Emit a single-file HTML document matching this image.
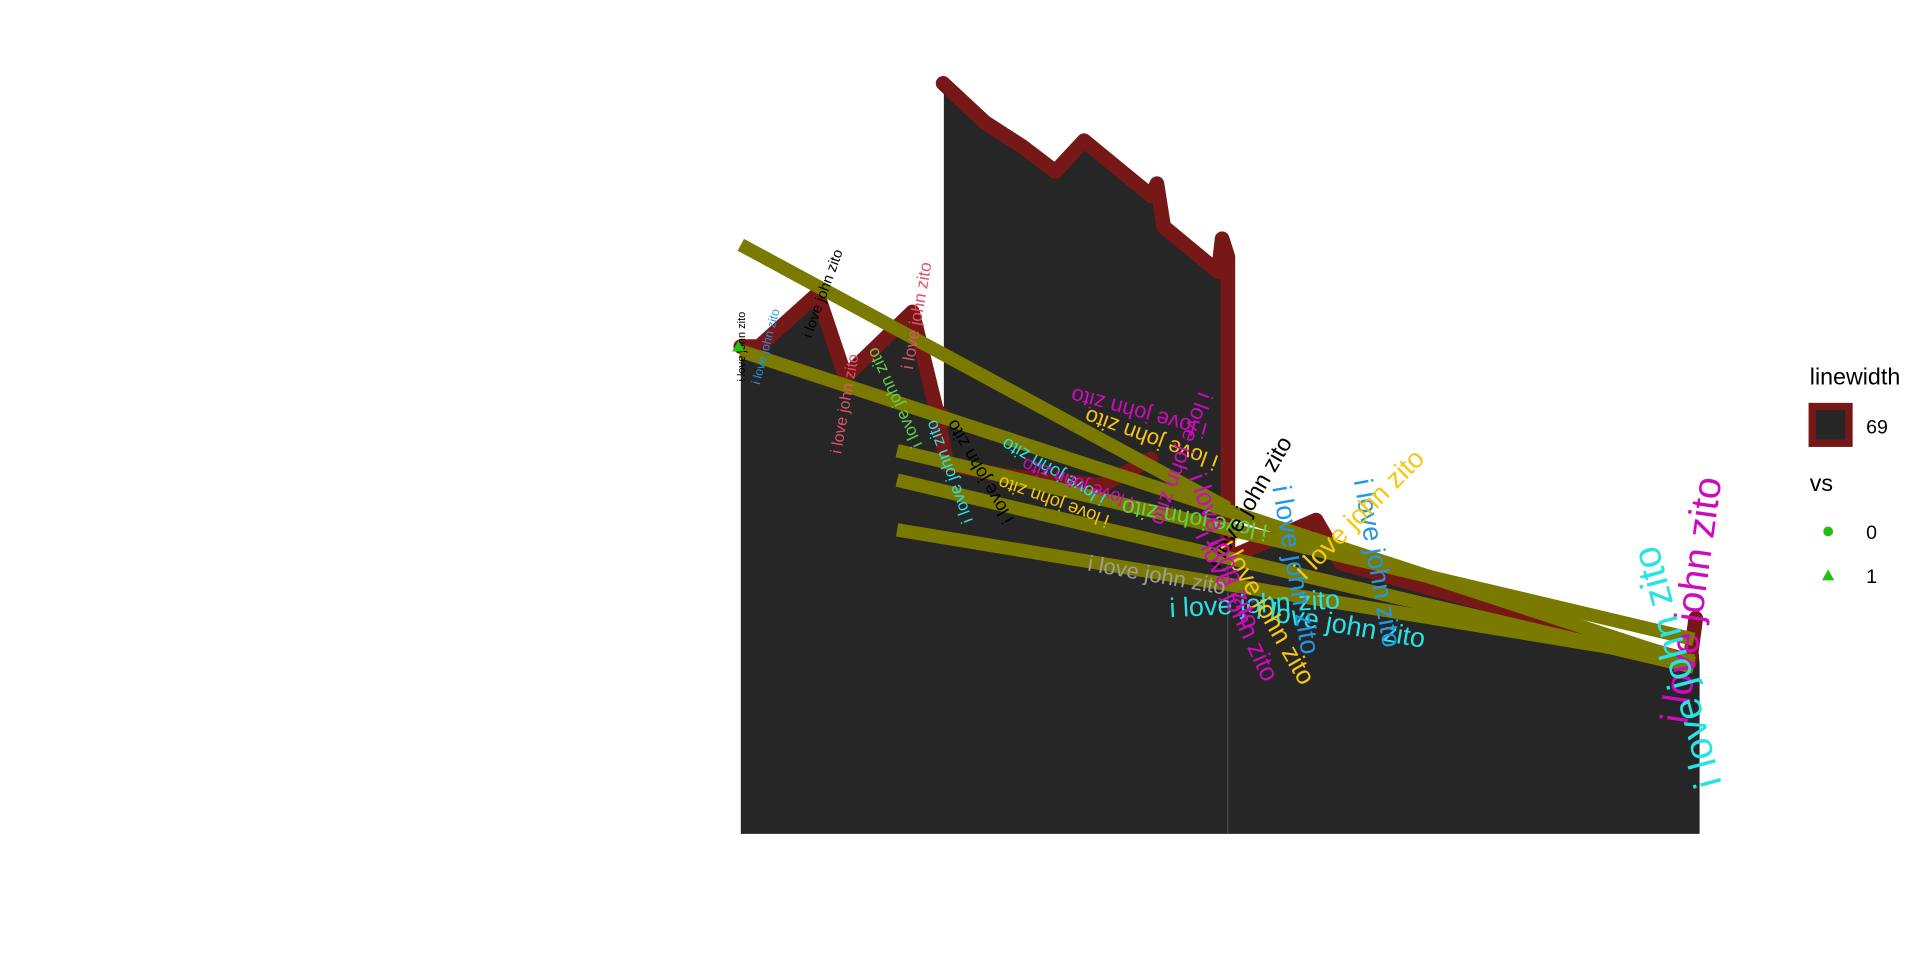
<!DOCTYPE html>
<html><head><meta charset="utf-8"><style>
html,body{margin:0;padding:0;background:#fff;}
svg{display:block;font-family:"Liberation Sans",sans-serif;}
</style></head><body>
<svg id="chart" width="1920" height="960" viewBox="0 0 1568 784" preserveAspectRatio="none" xmlns="http://www.w3.org/2000/svg">
<g id="plot"></g>
<g id="legend">
  <text x="1478" y="314" font-size="19">linewidth</text>
  <rect x="1480" y="332" width="30" height="30" fill="#262626" stroke="#771818" stroke-width="6"/>
  <text x="1524" y="354" font-size="16">69</text>
  <text x="1478" y="401" font-size="19">vs</text>
  <circle cx="1493" cy="434" r="4" fill="#22c010"/>
  <text x="1524" y="440" font-size="16">0</text>
  <polygon points="1493,465 1498,474 1488,474" fill="#22c010"/>
  <text x="1524" y="476" font-size="16">1</text>
</g>
</svg>
<script>
// area / outline data
const areaX = [0,1.9,8,10.9,17.9,20.4,21.1, 21.1,25.5,29.4,32.8,35.8,42.8,43.4,44.1,49.8,50.2,50.8,50.8, 51.1,60,62.6,99,99.6];
const areaY = [64.6,64.6,71.6,60.6,69.2,56.2,55.4, 99.5,94.3,91.1,87.8,91.9,84.6,86.2,80.5,74.5,78.9,76.5,37.5, 36.7,41.6,35.9,22.9,28.6];
const lowLineX = [20.4,21.5,27.5,37.7,42.8];
const lowLineY = [56.2,49,47.5,46.2,49.7];
// olive segments
const segX0 = [0,0,16.3,16.3,16.3];
const segY0 = [78.1,64,50.8,46.9,40.3];
const segX1 = [50.8,99.4,99.4,99.4,99.4];
const segY1 = [43.2,22.6,25.8,22.1,22.9];
// labels
const labelX = [0.1,2.6,8.6,10.9,18.3,16,21.7,24.9,32.6,35.1,32.6,41.5,42.8,46,43.4,53.6,62.6,57.9,66.4,64.5,47.3,53,51.7,54.9,99.2,97.7,50.4];
const labelY = [64.6,64.6,71.6,57,68.7,57.8,48,48,48,46.4,44,55.8,52.3,49.7,34.3,30.5,27.8,35,35.9,42.4,41.6,44,30.2,29.4,31,22.1,37.5];
// label styles (not data)
const labelAngle = [-90,-75,-70,-80,-80,-115,-110,-120,-150,-160,-160,195,200,110,10,-3,10,80,80,-45,190,-60,65,60,-82,-105,70];
const labelSize = [9,10,12,13,14,14,14,15,15,15,15,18,18,18,18,22,22,22,22,22,19,19,21,21,32,32,21];
const labelColor = ["#000","#2297e6","#000","#df536b","#df536b","#61d04f","#28e2e5","#000","#28e2e5","#cd0bbc","#f5c710","#cd0bbc","#f5c710","#cd0bbc","#9e9e9e","#28e2e5","#28e2e5","#2297e6","#2297e6","#f5c710","#61d04f","#000","#cd0bbc","#f5c710","#cd0bbc","#28e2e5","#cd0bbc"];
const pointX = [0];
const pointY = [64.6];

const xs = v => 605 + v * 7.83;
const ys = v => 681 - v * 6.16;
const NS = "http://www.w3.org/2000/svg";
const g = document.getElementById('plot');
function mk(tag, attrs){ const e=document.createElementNS(NS,tag); for(const k in attrs) e.setAttribute(k,attrs[k]); g.appendChild(e); return e; }

// fill
let pts = areaX.map((x,i)=>xs(x)+','+ys(areaY[i]));
pts.push(xs(100)+','+ys(areaY[areaY.length-1]-6));
pts.push(xs(100)+','+ys(0)); pts.push(xs(0)+','+ys(0));
const area = mk('polygon',{points:pts.join(' '),fill:'#262626'});


const gap1 = mk('line',{x1:xs(21.1),y1:ys(99.5),x2:xs(21.1),y2:ys(55),stroke:'#fff','stroke-width':1.2});


const gap2 = mk('line',{x1:xs(50.8),y1:ys(37.5),x2:xs(50.8),y2:ys(0),stroke:'#555','stroke-width':0.8});



// outlines in segments
const parts = [[0,6],[7,18],[19,23]];
parts.forEach((p,k)=>{
  const s=[]; for(let i=p[0];i<=p[1];i++) s.push(xs(areaX[i])+','+ys(areaY[i]));
  const l = mk('polyline',{points:s.join(' '),fill:'none',stroke:'#771818','stroke-width':12,'stroke-linejoin':'round','stroke-linecap':'round'});
  
  
});
const low = mk('polyline',{points:lowLineX.map((x,i)=>xs(x)+','+ys(lowLineY[i])).join(' '),fill:'none',stroke:'#771818','stroke-width':12,'stroke-linejoin':'round','stroke-linecap':'round'});



// olive segments
segX0.forEach((x,i)=>{
  const l = mk('line',{x1:xs(x),y1:ys(segY0[i]),x2:xs(segX1[i]),y2:ys(segY1[i]),stroke:'#7a7a00','stroke-width':11});
  
  
});

// labels
labelX.forEach((x,i)=>{
  const cx=xs(x), cy=ys(labelY[i]);
  const t = mk('text',{x:cx,y:cy,'font-size':labelSize[i],fill:labelColor[i],'text-anchor':'middle','dominant-baseline':'central',transform:`rotate(${labelAngle[i]} ${cx} ${cy})`});
  t.textContent='i love john zito';
  
  
});

// point
pointX.forEach((x,i)=>{
  const cx=xs(x)-2, cy=ys(pointY[i]);
  const p = mk('polygon',{points:`${cx},${cy-5} ${cx+5},${cy+4} ${cx-5},${cy+4}`,fill:'#22c010'});
  
  
});
</script>
</body></html>
